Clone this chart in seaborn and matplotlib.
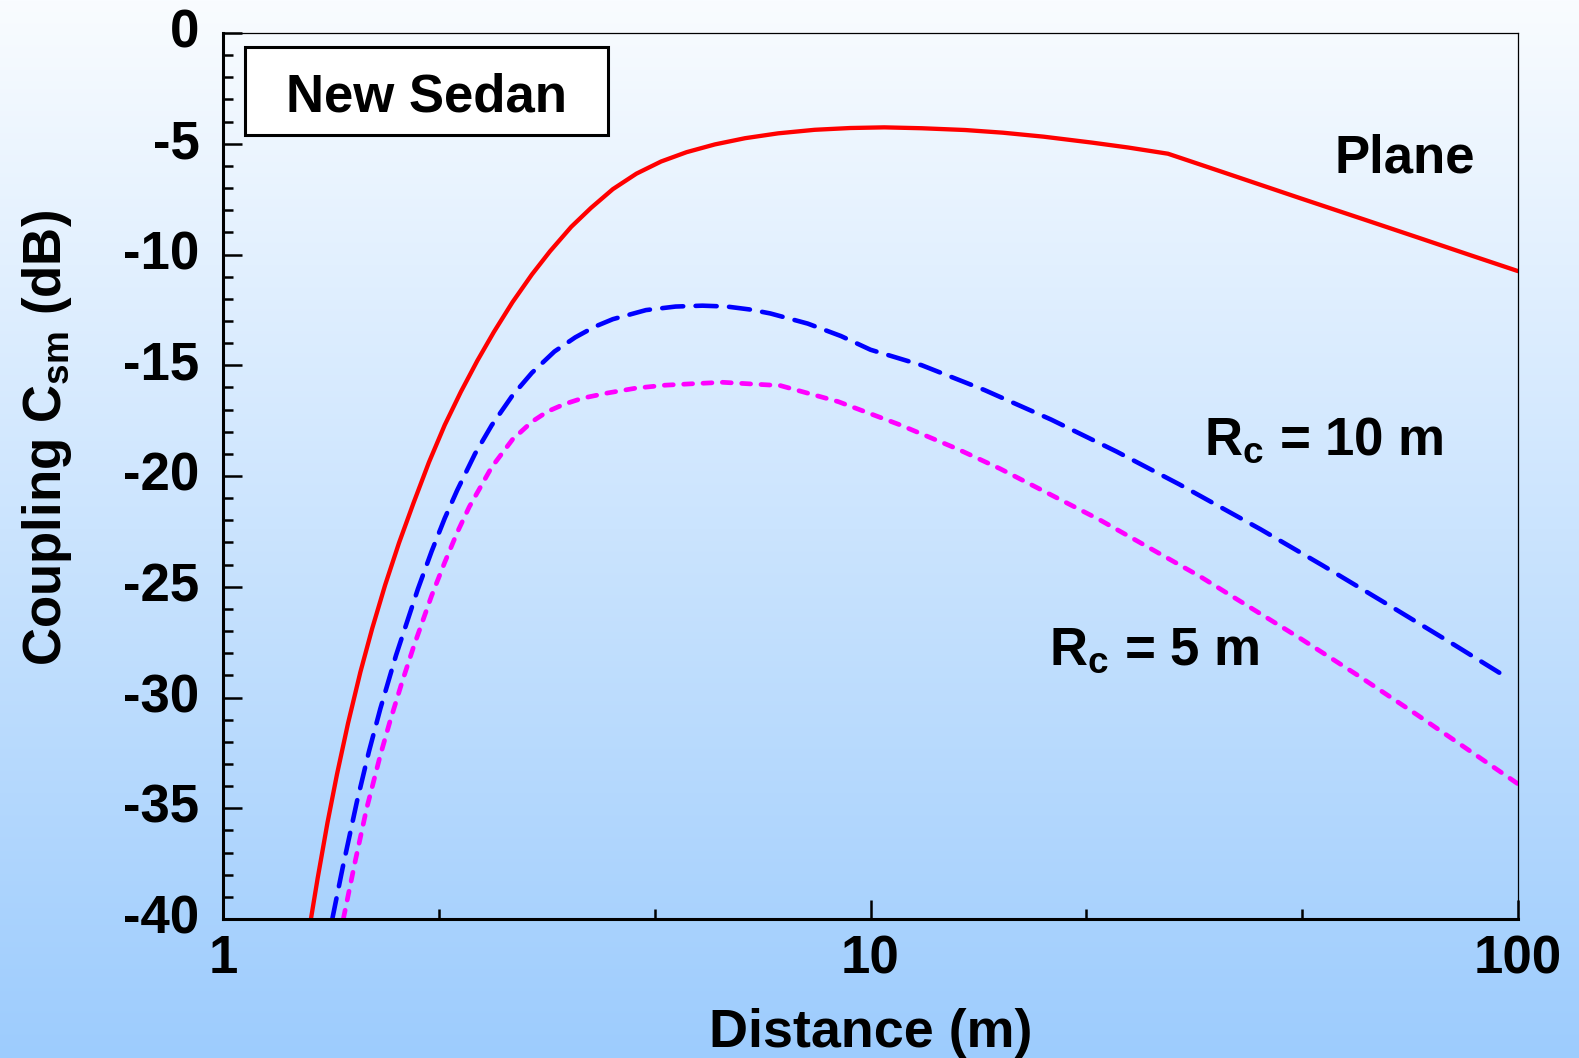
import numpy as np
import pandas as pd
import matplotlib
matplotlib.use("Agg")
import matplotlib.pyplot as plt
import matplotlib.transforms as mtransforms
from matplotlib.ticker import FixedLocator, NullFormatter, FixedFormatter, MultipleLocator
from matplotlib.patches import Rectangle
import seaborn as sns

# Coupling vs. distance, plane wave and two curvature radii
plane_dist = [1.36, 1.40, 1.45, 1.50, 1.56, 1.63, 1.70, 1.78, 1.87, 1.97, 2.08,
              2.2, 2.33, 2.47, 2.62, 2.8, 3.0, 3.2, 3.45, 3.7, 4.0, 4.35, 4.75,
              5.2, 5.75, 6.4, 7.2, 8.2, 9.3, 10.5, 12, 14, 16, 18.5, 22, 25,
              28.8, 35, 46, 58, 71, 85, 100]
plane_db = [-40.4, -38.17, -35.65, -33.46, -31.16, -28.85, -26.88, -24.92,
            -23.02, -21.2, -19.38, -17.7, -16.2, -14.8, -13.5, -12.15, -10.9,
            -9.85, -8.75, -7.9, -7.05, -6.35, -5.8, -5.38, -5.03, -4.75, -4.53,
            -4.37, -4.29, -4.26, -4.3, -4.38, -4.5, -4.68, -4.95, -5.17, -5.45,
            -6.28, -7.45, -8.43, -9.29, -10.06, -10.75]

rc10_dist = [1.475, 1.53, 1.61, 1.68, 1.75, 1.85, 2.0, 2.1, 2.2, 2.3, 2.45, 2.6,
             2.8, 3.0, 3.25, 3.5, 3.75, 4.0, 4.5, 5.0, 5.5, 6.0, 6.5, 7.0, 8.0,
             9.0, 10.0, 12, 15, 19, 24, 30, 40, 50, 65, 80, 95]
rc10_db = [-40, -37.7, -34.7, -32.45, -30.5, -28.1, -25.1, -23.4, -21.91,
           -20.64, -19.0, -17.71, -16.36, -15.34, -14.38, -13.74, -13.26,
           -12.92, -12.51, -12.35, -12.31, -12.35, -12.48, -12.66, -13.12,
           -13.68, -14.3, -15.0, -16.12, -17.45, -18.9, -20.38, -22.4, -24.05,
           -26.05, -27.65, -29.0]

rc5_dist = [1.534, 1.6, 1.667, 1.75, 1.81, 1.89, 1.97, 2.1, 2.2, 2.3, 2.4, 2.6,
            2.8, 3.0, 3.17, 3.37, 3.6, 3.93, 4.35, 4.82, 5.35, 5.91, 7.26, 8.91,
            11.08, 13.6, 15.85, 22.6, 32.3, 46.1, 56.3, 70, 81.3, 100]
rc5_db = [-40, -37.4, -35.0, -32.6, -31.1, -29.31, -27.7, -25.4, -23.9, -22.55,
          -21.4, -19.6, -18.35, -17.55, -17.09, -16.75, -16.48, -16.25, -16.03,
          -15.9, -15.83, -15.77, -15.92, -16.64, -17.68, -18.77, -19.67, -21.98,
          -24.54, -27.33, -28.96, -30.8, -32.1, -33.9]

x_major = [1, 10, 100]
x_major_labels = ["1", "10", "100"]
x_minor = [2.154, 4.642, 21.54, 46.42]
y_major = [0, -5, -10, -15, -20, -25, -30, -35, -40]
y_major_labels = ["0", "-5", "-10", "-15", "-20", "-25", "-30", "-35", "-40"]

sns.set_style("ticks")
plt.rcParams["font.family"] = ["Liberation Sans", "DejaVu Sans"]
plt.rcParams["font.weight"] = "bold"
plt.rcParams["axes.labelweight"] = "bold"
plt.rcParams["text.color"] = "black"
plt.rcParams["axes.labelcolor"] = "black"
plt.rcParams["xtick.color"] = "black"
plt.rcParams["ytick.color"] = "black"
plt.rcParams["mathtext.fontset"] = "custom"
plt.rcParams["mathtext.rm"] = "Liberation Sans:bold"
plt.rcParams["mathtext.it"] = "Liberation Sans:bold"
plt.rcParams["mathtext.bf"] = "Liberation Sans:bold"
plt.rcParams["mathtext.default"] = "rm"
plt.rcParams["axes.unicode_minus"] = False

FS = 38

fig = plt.figure(figsize=(15.79, 10.58), dpi=100)

# vertical background gradient, pale at top to light blue at bottom
bg = fig.add_axes([0, 0, 1, 1], zorder=-10)
top_c = np.array([249, 252, 255]) / 255.0
bot_c = np.array([157, 204, 253]) / 255.0
t = np.linspace(0, 1, 512)[:, None]
grad = (top_c[None, :] * (1 - t) + bot_c[None, :] * t)[:, None, :]
bg.imshow(grad, aspect="auto", extent=[0, 1, 0, 1], origin="upper")
bg.set_axis_off()

ax = fig.add_axes([223 / 1579, 1 - 919 / 1058, 1295 / 1579, 886 / 1058])
ax.set_facecolor("none")
ax.set_xscale("log")

frames = {
    "Plane": pd.DataFrame({"distance": plane_dist, "coupling": plane_db}),
    "Rc10": pd.DataFrame({"distance": rc10_dist, "coupling": rc10_db}),
    "Rc5": pd.DataFrame({"distance": rc5_dist, "coupling": rc5_db}),
}
styles = {
    "Plane": dict(color="#FF0000", linewidth=3.1, linestyle="-"),
    "Rc10": dict(color="#0000FF", linewidth=3.3, linestyle=(0, (4.6, 2.7))),
    "Rc5": dict(color="#FF00FF", linewidth=3.4, linestyle=(0, (1.9, 2.2))),
}
for key, df in frames.items():
    sns.lineplot(data=df, x="distance", y="coupling", sort=False,
                 estimator=None, ax=ax, legend=False, **styles[key])
    ln = ax.lines[-1]
    ln.set_dash_capstyle("round")
    ln.set_solid_capstyle("round")
    ln.set_solid_joinstyle("round")

ax.set_xlim(1, 100)
ax.set_ylim(-40, 0)

ax.xaxis.set_major_locator(FixedLocator(x_major))
ax.xaxis.set_major_formatter(FixedFormatter(x_major_labels))
ax.xaxis.set_minor_locator(FixedLocator(x_minor))
ax.xaxis.set_minor_formatter(NullFormatter())
ax.yaxis.set_major_locator(FixedLocator(y_major))
ax.yaxis.set_major_formatter(FixedFormatter(y_major_labels))
ax.yaxis.set_minor_locator(MultipleLocator(1))

ax.tick_params(axis="both", which="both", direction="in", top=False, right=False,
               colors="black")
ax.tick_params(axis="x", which="major", length=14, width=1.8, pad=11, labelsize=FS)
ax.tick_params(axis="x", which="minor", length=7, width=1.8)
ax.tick_params(axis="y", which="major", length=14, width=1.8, pad=17, labelsize=FS)
ax.tick_params(axis="y", which="minor", length=7, width=1.8)
for lab in ax.get_xticklabels() + ax.get_yticklabels():
    lab.set_fontweight("bold")

# y tick labels sit a little above their tick marks
lift = mtransforms.ScaledTranslation(0, 5 / 100, fig.dpi_scale_trans)
for tick in ax.yaxis.get_major_ticks():
    tick.label1.set_transform(tick.label1.get_transform() + lift)

for side in ["left", "bottom"]:
    ax.spines[side].set_linewidth(2.2)
    ax.spines[side].set_color("black")
for side in ["top", "right"]:
    ax.spines[side].set_linewidth(0.9)
    ax.spines[side].set_color("black")
    ax.spines[side].set_visible(True)

ax.set_xlabel("Distance (m)", fontsize=38.8, fontweight="bold")
ax.set_ylabel(r"Coupling C$_{sm}$ (dB)", fontsize=FS, fontweight="bold")
ax.xaxis.set_label_coords(0.5, -0.1)
ax.yaxis.set_label_coords(-0.115, 0.543)

# title box
ax.add_patch(Rectangle((0.017, 0.885), 0.280, 0.0995, transform=ax.transAxes,
                       facecolor="white", edgecolor="black", linewidth=2.2,
                       zorder=5))
ax.text(0.157, 0.927, "New Sedan", transform=ax.transAxes, ha="center",
        va="center", fontsize=FS, fontweight="bold", zorder=6)

ax.text(66.9, -6.32, "Plane", ha="center", va="baseline", fontsize=FS,
        fontweight="bold")
ax.text(50.2, -19.05, r"R$_\mathregular{c}$ = 10 m", ha="center", va="baseline",
        fontsize=FS, fontweight="bold")
ax.text(27.4, -28.5, r"R$_\mathregular{c}$ = 5 m", ha="center", va="baseline",
        fontsize=FS, fontweight="bold")

fig.savefig("out.png", dpi=100)
